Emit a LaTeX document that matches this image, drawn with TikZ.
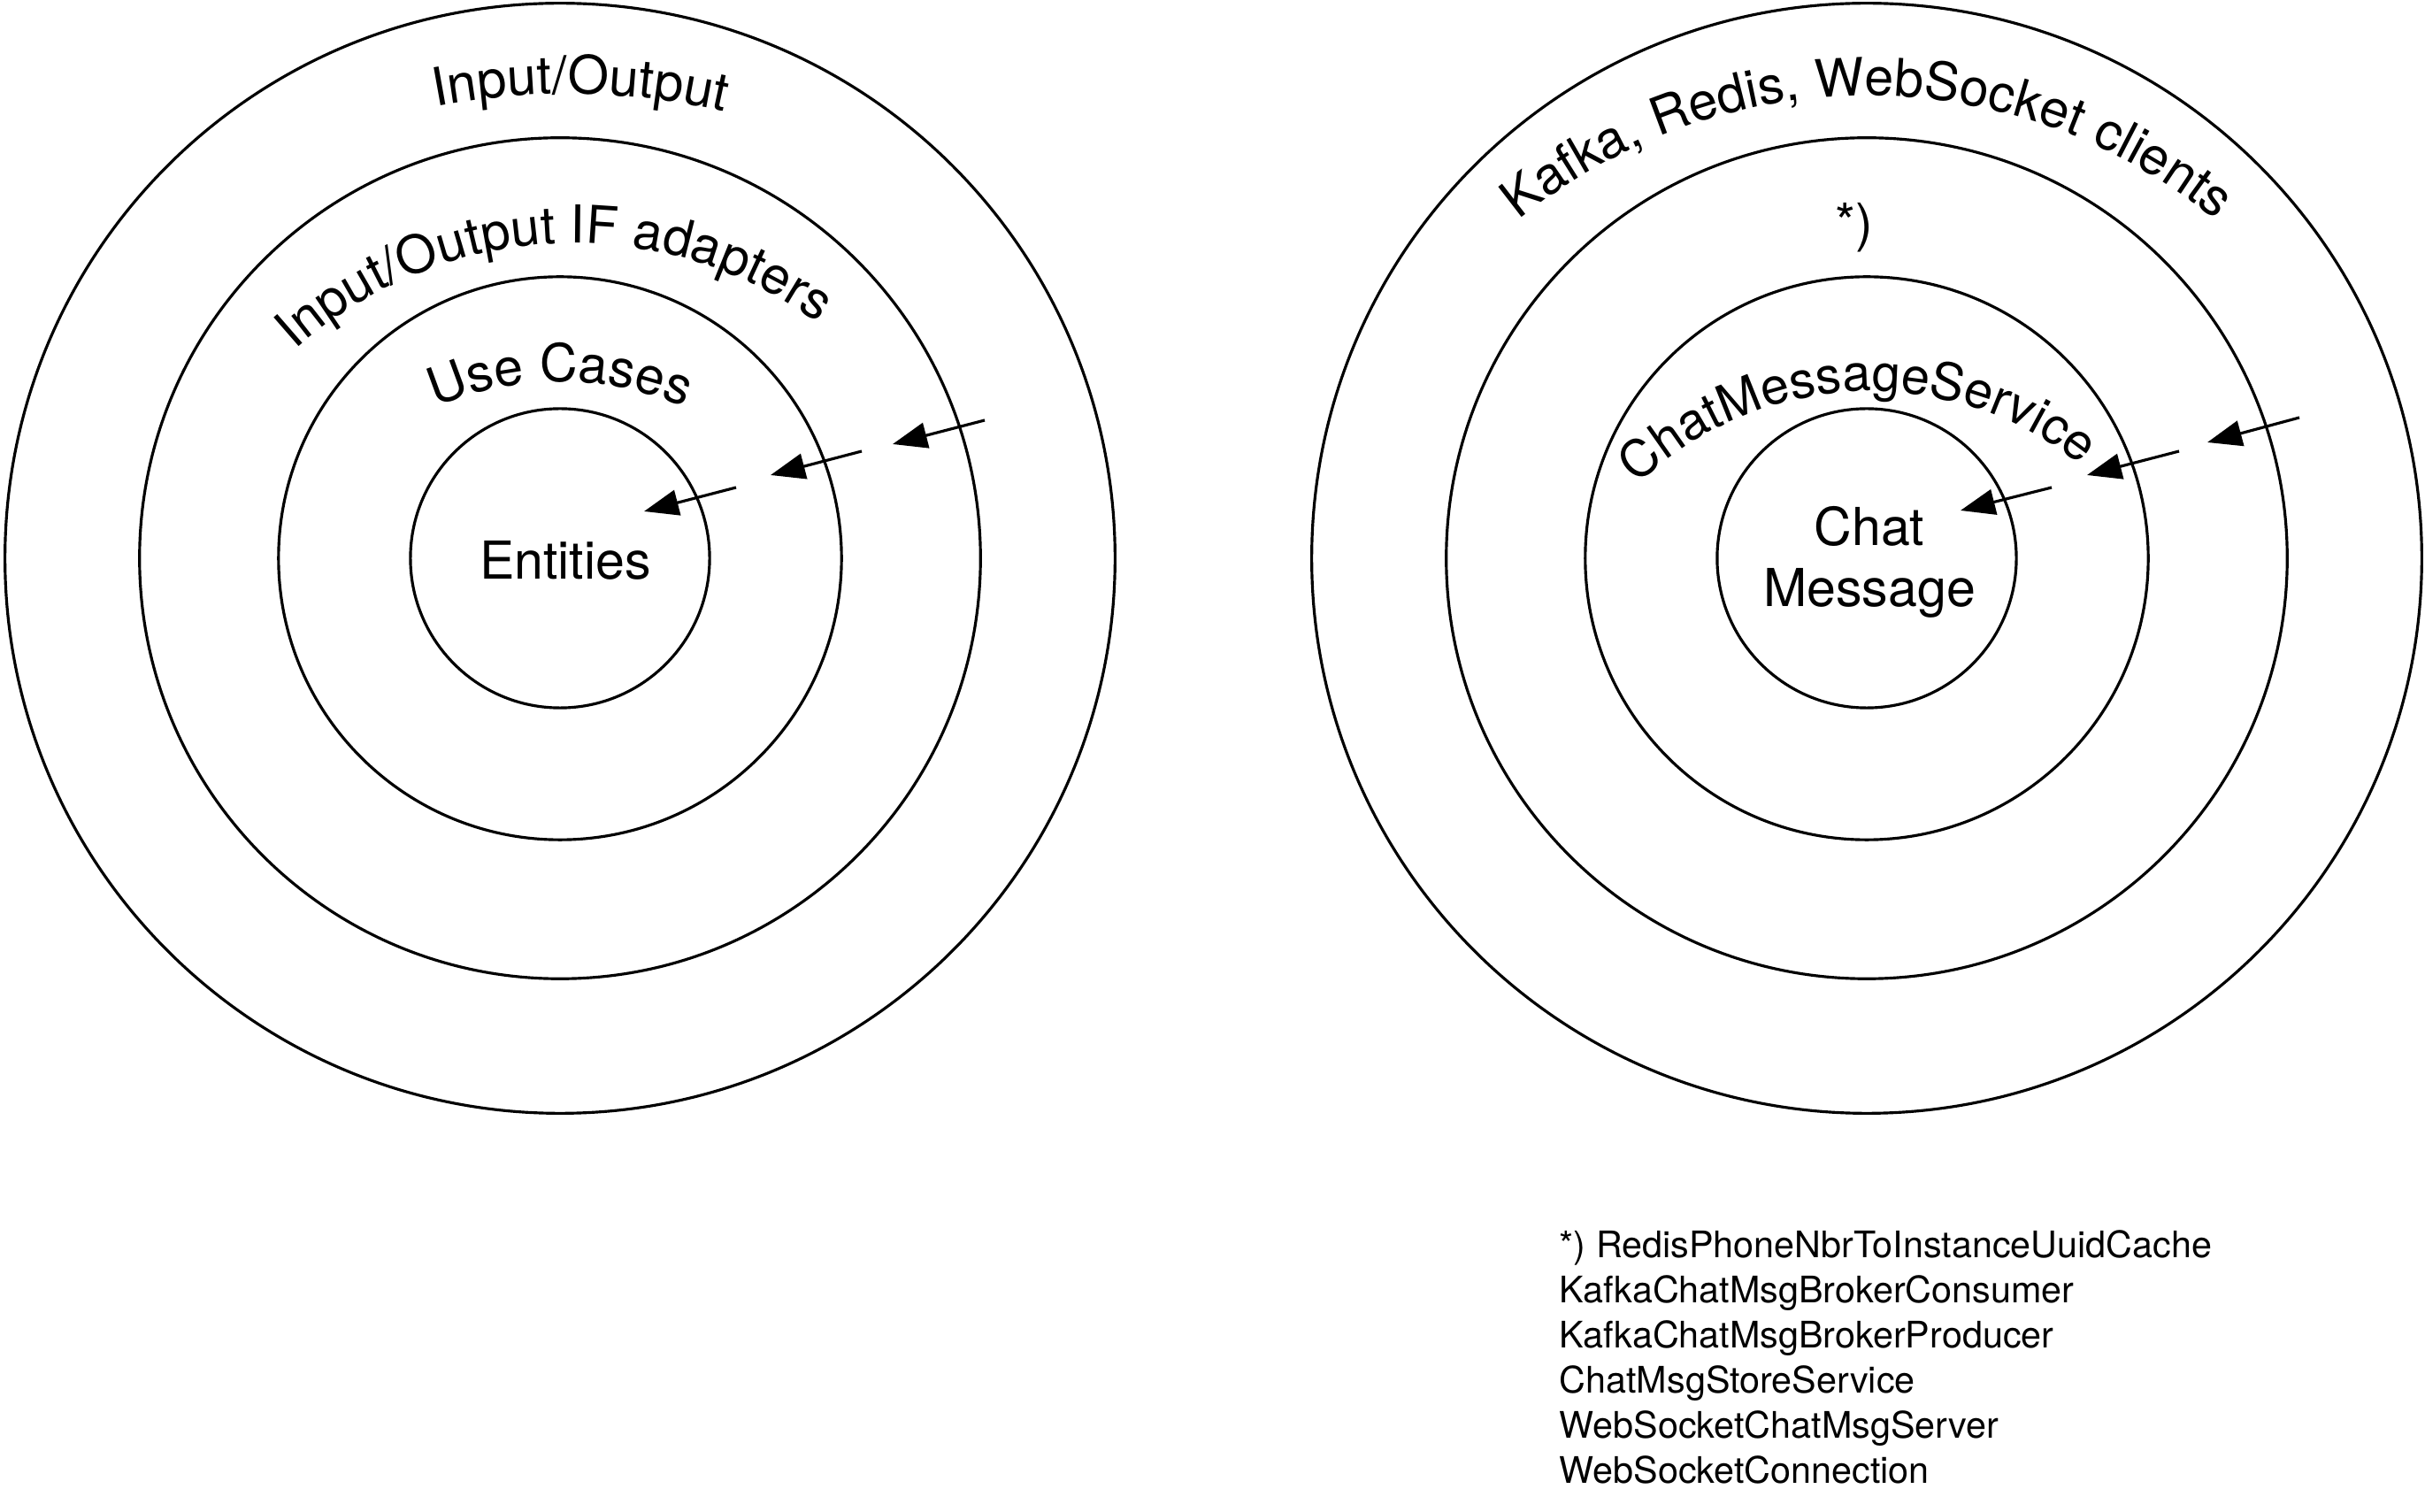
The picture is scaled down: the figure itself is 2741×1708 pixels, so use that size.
\documentclass[tikz,border=0pt]{standalone}
\usepackage{fontspec}
\setmainfont{TeX Gyre Heros}
\usetikzlibrary{arrows.meta,decorations.text}
\newcommand\bigfnt{\fontsize{16.8}{19.6}\selectfont}
\newcommand\smallfnt{\fontsize{11.75}{14.5}\selectfont}
\tikzset{
  ring/.style={draw, circle, line width=0.9pt, inner sep=0pt, minimum size=#1},
  arr/.style={-{Triangle[length=0.39cm,width=0.29cm]}, line width=0.9pt},
  arclabel/.style 2 args={decorate, decoration={text along path, text align=center, text={|\fontsize{#1}{#1}\selectfont|#2}}},
  lbl/.style={inner sep=0pt, font=\bigfnt}
}
\begin{document}
\begin{tikzpicture}[x=0.01cm, y=0.01cm]
\fill[white] (0,0) rectangle (2741,1708);
\useasboundingbox (0,0) rectangle (2741,1708);

% left rings
\node[ring=12.54cm] (L1) at (633,1077) {};
\node[ring=9.5cm]   (L2) at (633,1077) {};
\node[ring=6.36cm]  (L3) at (633,1077) {};
\node[ring=3.38cm]  (L4) at (633,1077) {};
\node[lbl] (ent) at (639,1075) {Entities};

% right rings
\node[ring=12.54cm] (R1) at (2110,1077) {};
\node[ring=9.5cm]   (R2) at (2110,1077) {};
\node[ring=6.36cm]  (R3) at (2110,1077) {};
\node[ring=3.38cm]  (R4) at (2110,1077) {};
\node[lbl, align=center] (chat) at (2113,1073) {Chat\\Message};
\node[lbl] (star) at (2096,1451) {*)};

% arc labels
\path[arclabel={17}{Input/Output}] (642,802) ++(114:800) arc[start angle=114, end angle=64, radius=800];
\path[arclabel={16.8}{Input/Output IF adapters}] (648,963) ++(158:470) arc[start angle=158, end angle=28, radius=470];
\path[arclabel={16.8}{Use Cases}] (633,927) ++(135:350) arc[start angle=135, end angle=45, radius=350];
\path[arclabel={16.8}{Kafka, Redis, WebSocket clients}] (2111,980) ++(145:620) arc[start angle=145, end angle=35, radius=620];
\path[arclabel={16.4}{ChatMessageService}] (2114,886) ++(147.5:380) arc[start angle=147.5, end angle=37.5, radius=380];

% arrows left
\coordinate (a1s) at (1113,1233); \coordinate (a1e) at (1009,1206);
\coordinate (a2s) at (974,1198);  \coordinate (a2e) at (871,1171);
\coordinate (a3s) at (832,1157);  \coordinate (a3e) at (728,1130);
\draw[arr] (a1s) -- (a1e);
\draw[arr] (a2s) -- (a2e);
\draw[arr] (a3s) -- (a3e);

% arrows right
\coordinate (b1s) at (2599,1236); \coordinate (b1e) at (2495,1208);
\coordinate (b2s) at (2463,1198); \coordinate (b2e) at (2359,1171);
\coordinate (b3s) at (2319,1157); \coordinate (b3e) at (2216,1131);
\draw[arr] (b1s) -- (b1e);
\draw[arr] (b2s) -- (b2e);
\draw[arr] (b3s) -- (b3e);

% footnote
\node[inner sep=0pt, anchor=north west, align=left, font=\smallfnt] (note) at (1762,318)
  {*) RedisPhoneNbrToInstanceUuidCache\\KafkaChatMsgBrokerConsumer\\KafkaChatMsgBrokerProducer\\ChatMsgStoreService\\WebSocketChatMsgServer\\WebSocketConnection};
\end{tikzpicture}
\end{document}
